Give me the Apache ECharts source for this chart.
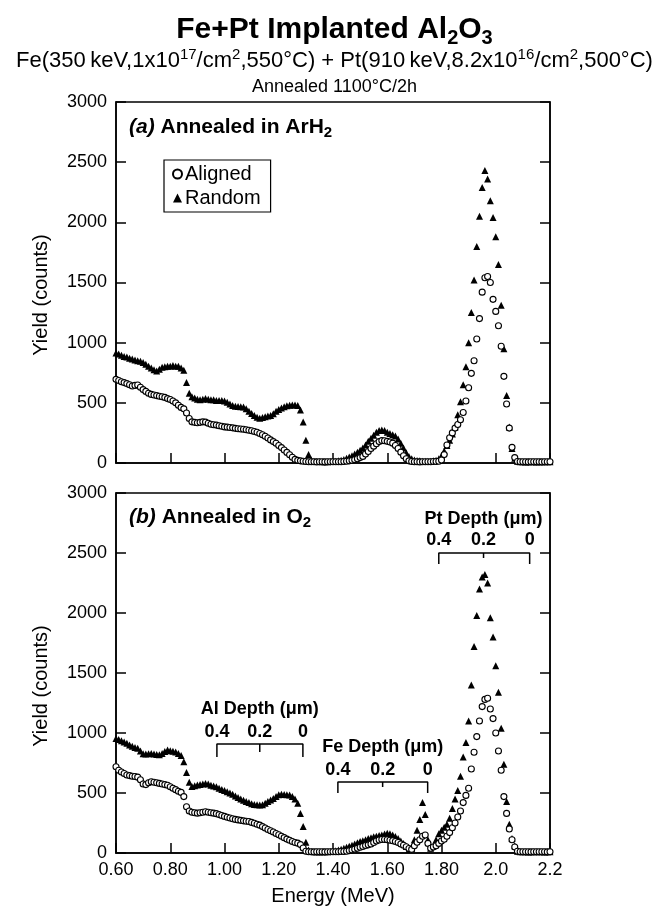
<!DOCTYPE html>
<html><head><meta charset="utf-8">
<script src="https://cdn.jsdelivr.net/npm/echarts@6/dist/echarts.min.js"></script>
<style>html,body{margin:0;padding:0;background:#fff}#c{width:669px;height:915px}</style>
</head><body><div id="c"></div>
<script>
// ---- data ----
const energy = [
0.60,0.61,0.62,0.63,0.64,0.65,0.66,0.67,0.68,0.69,
0.70,0.71,0.72,0.73,0.74,0.75,0.76,0.77,0.78,0.79,
0.80,0.81,0.82,0.83,0.84,0.85,0.86,0.87,0.88,0.89,
0.90,0.91,0.92,0.93,0.94,0.95,0.96,0.97,0.98,0.99,
1.00,1.01,1.02,1.03,1.04,1.05,1.06,1.07,1.08,1.09,
1.10,1.11,1.12,1.13,1.14,1.15,1.16,1.17,1.18,1.19,
1.20,1.21,1.22,1.23,1.24,1.25,1.26,1.27,1.28,1.29,
1.30,1.31,1.32,1.33,1.34,1.35,1.36,1.37,1.38,1.39,
1.40,1.41,1.42,1.43,1.44,1.45,1.46,1.47,1.48,1.49,
1.50,1.51,1.52,1.53,1.54,1.55,1.56,1.57,1.58,1.59,
1.60,1.61,1.62,1.63,1.64,1.65,1.66,1.67,1.68,1.69,
1.70,1.71,1.72,1.73,1.74,1.75,1.76,1.77,1.78,1.79,
1.80,1.81,1.82,1.83,1.84,1.85,1.86,1.87,1.88,1.89,
1.90,1.91,1.92,1.93,1.94,1.95,1.96,1.97,1.98,1.99,
2.00,2.01,2.02,2.03,2.04,2.05,2.06,2.07,2.08,2.09,
2.10,2.11,2.12,2.13,2.14,2.15,2.16,2.17,2.18,2.19,
2.20];

// (a) Annealed in ArH2
const aAligned = [
695,685,675,668,660,650,640,645,648,630,
610,595,580,570,565,560,555,550,545,535,
528,515,500,480,462,450,415,370,342,338,
335,338,342,340,330,322,318,315,310,305,
300,298,295,292,288,285,282,280,276,272,
268,262,255,245,235,222,208,192,178,164,
145,128,108,88,68,48,30,22,18,15,
12,10,10,10,9,10,10,9,10,10,
10,10,10,10,12,15,18,22,28,35,
45,55,75,95,120,140,160,178,186,185,
180,175,165,145,120,90,60,35,18,12,
10,10,9,10,10,10,11,12,13,15,
25,70,150,210,250,290,320,360,420,515,
625,745,850,1030,1200,1420,1540,1550,1500,1360,
1260,1140,970,720,490,290,130,45,12,10,
10,10,9,10,10,11,10,9,10,10,
10];
const aRandom = [
915,905,895,885,880,870,865,855,850,845,
835,820,805,790,775,765,780,795,800,805,
805,810,805,805,790,770,670,580,550,540,
530,525,530,535,530,525,525,520,520,520,
515,505,490,478,472,470,468,465,450,430,
412,395,380,372,378,385,390,395,410,430,
445,458,468,475,480,482,482,478,440,340,
190,70,25,15,12,12,10,10,10,12,
12,15,18,22,30,40,50,60,75,90,
105,125,150,180,205,230,255,270,275,270,
255,245,235,225,200,165,125,85,55,35,
25,20,18,15,15,15,15,18,22,35,
60,100,145,190,240,300,400,510,650,800,
1000,1250,1520,1800,2050,2290,2430,2360,2180,2040,
1880,1650,1310,950,560,300,120,40,15,10,
10,9,10,11,10,9,10,10,11,10,
10];

// (b) Annealed in O2
const bAligned = [
719,690,675,662,650,645,640,638,632,610,
575,570,585,594,590,585,580,575,570,565,
552,540,528,515,505,470,385,350,340,335,
332,336,340,344,340,335,332,328,320,312,
305,298,292,286,280,276,272,268,265,262,
255,248,240,232,220,208,196,186,175,162,
152,140,128,116,106,96,88,82,70,42,
15,10,10,9,10,10,10,9,10,10,
10,10,11,12,13,15,20,26,32,40,
48,55,62,68,75,88,100,108,112,112,
110,106,102,96,88,75,65,52,38,30,
60,90,110,140,150,80,40,50,60,80,
100,115,140,170,210,250,300,350,420,480,
540,700,840,970,1100,1220,1280,1290,1200,1120,
1000,850,690,470,330,200,110,50,15,10,
10,10,10,9,10,10,11,10,10,9,
10];
const bRandom = [
955,945,935,925,915,900,890,880,872,850,
828,825,828,830,825,820,818,830,845,858,
852,848,842,830,812,760,670,590,555,560,
566,570,575,580,575,565,558,552,540,530,
520,510,500,490,475,462,450,440,430,420,
410,405,402,400,403,415,430,442,455,470,
485,490,488,486,484,470,450,415,330,220,
90,25,12,10,10,9,10,10,11,12,
14,18,24,32,40,48,56,65,75,86,
95,102,110,120,128,135,140,145,150,158,
165,160,150,138,120,100,80,55,30,40,
110,190,280,420,320,110,40,60,110,160,
190,215,240,290,370,450,520,640,800,920,
1100,1400,1720,1980,2200,2300,2320,2250,1960,1800,
1560,1340,1040,740,430,240,120,60,15,10,
10,10,9,10,10,11,10,10,9,10,
10];

const seriesNames = ['Aligned','Random'];
const yTicks = [0,500,1000,1500,2000,2500,3000];
// depth scales drawn in panel (b): energies of depth ticks (MeV)
const depthTitles = ['Al Depth (μm)','Fe Depth (μm)','Pt Depth (μm)'];
const depthTickLabels = ['0.4','0.2','0'];
const alDepthEnergy = [0.972,1.130,1.289];
const feDepthEnergy = [1.418,1.583,1.749];
const ptDepthEnergy = [1.790,1.955,2.125];

// ---- layout (not data) ----
const FONT = '"Liberation Sans", Arial, Helvetica, sans-serif';
// bracket levels in counts: [bar, end-tick bottom, mid-tick bottom, tick-label, title]
const bracketLevels = [
  [908, 800, 842, 1010, 1200],
  [592, 500, 550, 695, 885],
  [2500, 2408, 2458, 2610, 2780]
];

const chart = echarts.init(document.getElementById('c'), null, {renderer:'canvas'});

function pts(ys){ return energy.map((e,i)=>[e, ys[i]]); }

const grids = [
  {left:116, right:119, top:102, height:361},
  {left:116, right:119, top:493, height:360}
];
grids.forEach(g=>{ g.show=true; g.borderColor='#000'; g.borderWidth=1.5; g.containLabel=false; });

function xAx(gi, showLabel){
  return {type:'value', gridIndex:gi, min:0.6, max:2.2, interval:0.2,
    axisLine:{show:true, onZero:false, lineStyle:{color:'#000', width:1.5}},
    axisTick:{show:true, inside:true, length:10, lineStyle:{color:'#000', width:1.5}},
    splitLine:{show:false},
    axisLabel:{show:showLabel, color:'#000', fontSize:18, fontFamily:FONT, margin:8,
      formatter:v=> (v<1.9 ? v.toFixed(2) : v.toFixed(1))},
    name: showLabel ? 'Energy (MeV)' : '', nameLocation:'middle', nameGap:33,
    nameTextStyle:{color:'#000', fontSize:20, fontFamily:FONT}
  };
}
function yAx(gi, pos){
  const left = pos==='left';
  return {type:'value', gridIndex:gi, position:pos, min:yTicks[0], max:yTicks[yTicks.length-1], interval:500,
    axisLine:{show:true, lineStyle:{color:'#000', width:1.5}},
    axisTick:{show:true, inside:true, length:10, lineStyle:{color:'#000', width:1.5}},
    splitLine:{show:false},
    axisLabel:{show:left, color:'#000', fontSize:18, fontFamily:FONT, margin:9, formatter:v=>String(v)}
  };
}

const series = [];
function dataSeries(gi, aligned, random){
  series.push({type:'scatter', name:seriesNames[0], xAxisIndex:gi, yAxisIndex:gi*2, data:pts(aligned),
    symbol:'circle', symbolSize:6, itemStyle:{color:'#fff', borderColor:'#000', borderWidth:1.1, opacity:1}, z:3, silent:true});
  series.push({type:'scatter', name:seriesNames[1], xAxisIndex:gi, yAxisIndex:gi*2, data:pts(random),
    symbol:'triangle', symbolSize:7, itemStyle:{color:'#000', opacity:1}, z:2, silent:true});
}
dataSeries(0, aAligned, aRandom);
dataSeries(1, bAligned, bRandom);

const lineSty = {color:'#000', width:1.5};
const depthEnergies = [alDepthEnergy, feDepthEnergy, ptDepthEnergy];
depthEnergies.forEach((en, k)=>{
  const L = bracketLevels[k];
  series.push({type:'line', xAxisIndex:1, yAxisIndex:2, symbol:'none', silent:true, z:4,
    lineStyle:lineSty, data:[[en[0],L[1]],[en[0],L[0]],[en[2],L[0]],[en[2],L[1]]]});
  series.push({type:'line', xAxisIndex:1, yAxisIndex:2, symbol:'none', silent:true, z:4,
    lineStyle:lineSty, data:[[en[1],L[0]],[en[1],L[2]]]});
});

const graphic = [
  {type:'text', left:'center', top:12, style:{
    text:'Fe+Pt Implanted Al{s|2}O{s|3}', fontSize:30, fontWeight:'bold', fontFamily:FONT, fill:'#000', lineHeight:36,
    rich:{s:{fontSize:20, fontWeight:'bold', fontFamily:FONT, fill:'#000', lineHeight:19, verticalAlign:'bottom'}}}},
  {type:'text', left:'center', top:47, style:{
    text:'Fe(350\u2009keV,1x10{p|17}/cm{p|2},550°C) + Pt(910\u2009keV,8.2x10{p|16}/cm{p|2},500°C)',
    fontSize:22, fontFamily:FONT, fill:'#000', lineHeight:28,
    rich:{p:{fontSize:15, fontFamily:FONT, fill:'#000', lineHeight:12, verticalAlign:'top'}}}},
  {type:'text', left:'center', top:78, style:{
    text:'Annealed 1100°C/2h', fontSize:18, fontFamily:FONT, fill:'#000'}},
  {type:'text', left:129, top:114, style:{
    text:'{i|(a)} Annealed in ArH{s|2}', fontSize:21, fontWeight:'bold', fontFamily:FONT, fill:'#000', lineHeight:26,
    rich:{i:{fontSize:21, fontWeight:'bold', fontStyle:'italic', fontFamily:FONT, fill:'#000', lineHeight:26},
          s:{fontSize:15, fontWeight:'bold', fontFamily:FONT, fill:'#000', lineHeight:12, verticalAlign:'bottom'}}}},
  {type:'text', left:129, top:504, style:{
    text:'{i|(b)} Annealed in O{s|2}', fontSize:21, fontWeight:'bold', fontFamily:FONT, fill:'#000', lineHeight:26,
    rich:{i:{fontSize:21, fontWeight:'bold', fontStyle:'italic', fontFamily:FONT, fill:'#000', lineHeight:26},
          s:{fontSize:15, fontWeight:'bold', fontFamily:FONT, fill:'#000', lineHeight:12, verticalAlign:'bottom'}}}},
  {type:'text', x:41, y:295, rotation:Math.PI/2, style:{
    text:'Yield (counts)', fontSize:20, fontFamily:FONT, fill:'#000', align:'center', verticalAlign:'middle'}},
  {type:'text', x:41, y:686, rotation:Math.PI/2, style:{
    text:'Yield (counts)', fontSize:20, fontFamily:FONT, fill:'#000', align:'center', verticalAlign:'middle'}}
];

chart.setOption({
  animation:false,
  backgroundColor:'#fff',
  grid:grids,
  xAxis:[xAx(0,false), xAx(1,true)],
  yAxis:[yAx(0,'left'), yAx(0,'right'), yAx(1,'left'), yAx(1,'right')],
  legend:{data:seriesNames, orient:'vertical', left:164, top:160, borderColor:'#000', borderWidth:1.2,
    padding:[4,10,4,8], itemGap:4, itemWidth:9, itemHeight:9, backgroundColor:'#fff',
    textStyle:{color:'#000', fontSize:20, fontFamily:FONT, padding:[0,0,0,-2]}},
  graphic:graphic,
  series:series
});

// depth-scale text, placed through the panel (b) axes
const extra = [];
depthEnergies.forEach((en, k)=>{
  const L = bracketLevels[k];
  const items = en.map((e,i)=>[e, L[3], depthTickLabels[i]]).concat([[en[1], L[4], depthTitles[k]]]);
  items.forEach(it=>{
    const p = chart.convertToPixel({xAxisIndex:1, yAxisIndex:2}, [it[0], it[1]]);
    extra.push({type:'text', x:p[0], y:p[1], z:10, style:{text:it[2], fontSize:18, fontWeight:'bold',
      fontFamily:FONT, fill:'#000', align:'center', verticalAlign:'middle'}});
  });
});
chart.setOption({graphic: graphic.concat(extra)});
</script>
</body></html>
